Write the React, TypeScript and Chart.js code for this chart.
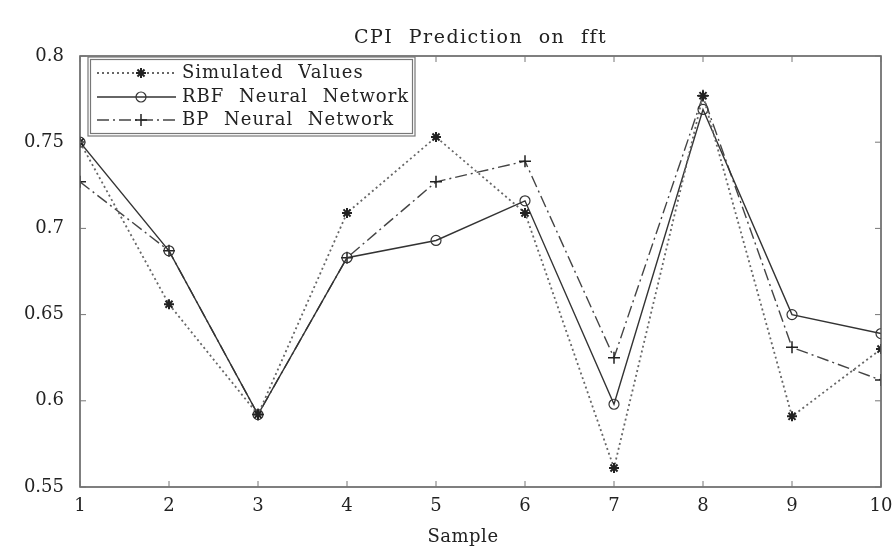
import React, { useEffect, useRef } from "react";
import { Chart, registerables, PointElement } from "chart.js";

Chart.register(...registerables);

const samples = [1, 2, 3, 4, 5, 6, 7, 8, 9, 10];
const simulatedValues = [0.75, 0.656, 0.592, 0.709, 0.753, 0.709, 0.561, 0.777, 0.591, 0.63];
const rbfValues = [0.75, 0.687, 0.592, 0.683, 0.693, 0.716, 0.598, 0.769, 0.65, 0.639];
const bpValues = [0.727, 0.687, 0.592, 0.683, 0.727, 0.739, 0.625, 0.777, 0.631, 0.612];
const seriesNames = ["Simulated Values", "RBF Neural Network", "BP Neural Network"];
const titleText = "CPI Prediction on fft";
const xTitle = "Sample";

const FONT = "'DejaVu Serif', 'Liberation Serif', serif";

const framePlugin = {
  id: "frame",
  afterDraw(chart: any) {
    const { ctx, chartArea } = chart;
    const { left, right, top, bottom } = chartArea;
    const xs = chart.scales.x;
    const ys = chart.scales.y;
    ctx.save();
    ctx.strokeStyle = "#555";
    ctx.lineWidth = 1.5;
    ctx.strokeRect(left, top, right - left, bottom - top);
    ctx.lineWidth = 1;
    ctx.strokeStyle = "#777";
    const tl = 6;
    samples.forEach((s) => {
      const px = xs.getPixelForValue(s);
      ctx.beginPath();
      ctx.moveTo(px, bottom);
      ctx.lineTo(px, bottom - tl);
      ctx.moveTo(px, top);
      ctx.lineTo(px, top + tl);
      ctx.stroke();
    });
    ys.ticks.forEach((t: any) => {
      const py = ys.getPixelForValue(t.value);
      ctx.beginPath();
      ctx.moveTo(left, py);
      ctx.lineTo(left + tl, py);
      ctx.moveTo(right, py);
      ctx.lineTo(right - tl, py);
      ctx.stroke();
    });
    ctx.fillStyle = "#222";
    ctx.textBaseline = "middle";
    ctx.textAlign = "center";
    ctx.font = `19px ${FONT}`;
    (ctx as any).letterSpacing = "1.5px";
    (ctx as any).wordSpacing = "8px";
    ctx.fillText(titleText, (left + right) / 2, 38);
    ctx.font = `18px ${FONT}`;
    (ctx as any).letterSpacing = "0.5px";
    ctx.fillText(xTitle, 463, 537);
    // legend
    const lx = 88, ly = 57, lw = 327, lh = 79;
    ctx.fillStyle = "#fff";
    ctx.fillRect(lx, ly, lw, lh);
    ctx.strokeStyle = "#777";
    ctx.lineWidth = 1.2;
    ctx.strokeRect(lx, ly, lw, lh);
    ctx.strokeRect(lx + 2.5, ly + 2.5, lw - 5, lh - 5);
    const rows = [73, 97, 120];
    chart.data.datasets.forEach((ds: any, i: number) => {
      const y = rows[i];
      ctx.save();
      ctx.strokeStyle = ds.borderColor;
      ctx.lineWidth = ds.borderWidth;
      ctx.setLineDash(ds.borderDash || []);
      ctx.beginPath();
      ctx.moveTo(97, y);
      ctx.lineTo(176, y);
      ctx.stroke();
      ctx.restore();
      const pt: any = new (PointElement as any)({});
      pt.x = 141;
      pt.y = y;
      pt.skip = false;
      pt.options = {
        pointStyle: ds.pointStyle,
        radius: ds.pointRadius,
        rotation: 0,
        borderWidth: ds.pointBorderWidth,
        borderColor: ds.pointBorderColor,
        backgroundColor: ds.pointBackgroundColor,
      };
      ctx.save();
      pt.draw(ctx);
      ctx.restore();
      ctx.fillStyle = "#222";
      ctx.font = `18px ${FONT}`;
      (ctx as any).letterSpacing = "1px";
      (ctx as any).wordSpacing = "8px";
      ctx.textAlign = "left";
      ctx.textBaseline = "middle";
      ctx.fillText(seriesNames[i], 182, y);
    });
    ctx.restore();
  },
};

export default function App() {
  const ref = useRef<HTMLCanvasElement>(null);
  useEffect(() => {
    document.body.style.margin = "0";
    const toPts = (vals: number[]) => samples.map((s, i) => ({ x: s, y: vals[i] }));
    const chart = new Chart(ref.current!, {
      type: "line",
      data: {
        datasets: [
          {
            label: seriesNames[0],
            data: toPts(simulatedValues),
            borderColor: "#666",
            borderWidth: 1.8,
            borderDash: [2, 3],
            pointStyle: "star",
            pointRadius: 5,
            pointBorderWidth: 2,
            pointBorderColor: "#222",
            pointBackgroundColor: "#222",
          },
          {
            label: seriesNames[1],
            data: toPts(rbfValues),
            borderColor: "#333",
            borderWidth: 1.4,
            pointStyle: "circle",
            pointRadius: 5,
            pointBorderWidth: 1.2,
            pointBorderColor: "#333",
            pointBackgroundColor: "rgba(255,255,255,0)",
          },
          {
            label: seriesNames[2],
            data: toPts(bpValues),
            borderColor: "#444",
            borderWidth: 1.4,
            borderDash: [12, 4, 2, 4],
            pointStyle: "cross",
            pointRadius: 6,
            pointBorderWidth: 1.5,
            pointBorderColor: "#222",
            pointBackgroundColor: "#222",
          },
        ],
      },
      options: {
        responsive: false,
        animation: false,
        layout: { padding: { top: 56, right: 14, left: 0, bottom: 0 } },
        plugins: { legend: { display: false }, title: { display: false }, tooltip: { enabled: false } },
        scales: {
          x: {
            type: "linear",
            min: 1,
            max: 10,
            grid: { display: false, drawTicks: false },
            border: { display: false },
            ticks: { stepSize: 1, padding: 9, color: "#222", font: { family: FONT, size: 18 } },
            afterFit: (s: any) => { s.height = 62; s.paddingLeft = 0; s.paddingRight = 0; },
          },
          y: {
            min: 0.55,
            max: 0.8,
            grid: { display: false, drawTicks: false },
            border: { display: false },
            ticks: {
              stepSize: 0.05,
              padding: 16,
              color: "#222",
              font: { family: FONT, size: 18 },
              callback: (v: any) => String(Number(Number(v).toFixed(2))),
            },
            afterFit: (s: any) => { s.width = 80; s.paddingTop = 0; s.paddingBottom = 0; },
          },
        },
      },
      plugins: [framePlugin],
    });
    return () => chart.destroy();
  }, []);
  return (
    <div style={{ width: 895, height: 549, background: "#fff" }}>
      <canvas ref={ref} width={895} height={549} />
    </div>
  );
}
